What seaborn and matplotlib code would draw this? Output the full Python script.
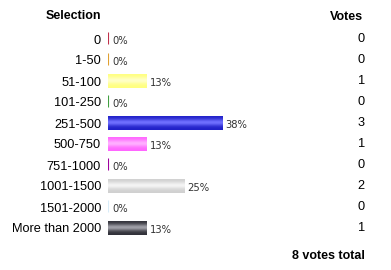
import matplotlib
matplotlib.use("Agg")
import matplotlib.pyplot as plt
import matplotlib.transforms as mtransforms
import seaborn as sns
import numpy as np
import pandas as pd
from matplotlib.colors import to_rgb

categories = ["0", "1-50", "51-100", "101-250", "251-500", "500-750",
              "751-1000", "1001-1500", "1501-2000", "More than 2000"]
votes = [0, 0, 1, 0, 3, 1, 0, 2, 0, 1]
percent_labels = ["0%", "0%", "13%", "0%", "38%", "13%", "0%", "25%", "0%", "13%"]
bar_colors = ["#c0304a", "#e0a030", "#ffff80", "#40a040", "#2020c8",
              "#ff66ff", "#a000a0", "#d0d0d0", "#d8ecf8", "#303038"]
highlight_colors = ["#c0304a", "#e0a030", "#ffffc8", "#40a040", "#7070ff",
                    "#ffb0ff", "#a000a0", "#f4f4f4", "#d8ecf8", "#a0a0a8"]
total_label = "8 votes total"

df = pd.DataFrame({"Selection": categories, "Votes": votes})

sns.set_theme(style="white")
plt.rcParams["font.family"] = ["Liberation Sans", "DejaVu Sans"]

W, H = 391, 270
fig = plt.figure(figsize=(W / 100, H / 100), dpi=100)
px_per_vote = 38
ax_left, ax_w = 108, 220
ax_top, row_h = 28.5, 21
ax_h = row_h * len(categories)
ax = fig.add_axes([ax_left / W, (H - ax_top - ax_h) / H, ax_w / W, ax_h / H])

sns.barplot(data=df, y="Selection", x="Votes", hue="Selection",
            palette=bar_colors, orient="h", width=0.62, legend=False,
            ax=ax, saturation=1)

ax.set_xlim(0, ax_w / px_per_vote)
ax.set_ylim(len(categories) - 0.5, -0.5)

# gradient shading + thin lines for zero bars
for i, patch in enumerate(ax.patches):
    x0, y0 = patch.get_x(), patch.get_y()
    w, h = patch.get_width(), patch.get_height()
    if w == 0:
        patch.set_edgecolor(bar_colors[i])
        patch.set_linewidth(0.8)
        patch.set_height(h * 0.92)
        continue
    base = np.array(to_rgb(bar_colors[i]))
    hi = np.array(to_rgb(highlight_colors[i]))
    t = np.linspace(0, 1, 32)
    prof = np.exp(-((t - 0.45) / 0.25) ** 2)
    grad = base[None, :] * (1 - prof[:, None]) + hi[None, :] * prof[:, None]
    im = ax.imshow(grad[:, None, :], extent=(x0, x0 + w, y0 + h, y0),
                   aspect="auto", zorder=3, interpolation="bilinear")
    im.set_clip_path(patch)

ax.set_xlim(0, ax_w / px_per_vote)
ax.set_ylim(len(categories) - 0.5, -0.5)

for i, (v, lab) in enumerate(zip(votes, percent_labels)):
    ax.annotate(lab, xy=(v, i), xytext=(2.5 if v else 3.5, -1.2),
                textcoords="offset points", va="center", ha="left",
                fontsize=7.2, color="#333333", family=["DejaVu Sans"])

ax.set_xlabel("")
ax.set_ylabel("")
ax.set_xticks([])
ax.tick_params(axis="y", length=0, pad=5, labelsize=9.2, labelcolor="#000000")
for s in ax.spines.values():
    s.set_visible(False)
ax.patch.set_alpha(0)

# headers and vote column
fig.text(101 / W, 1 - 16 / H, "Selection", ha="right", va="center",
         fontsize=9, fontweight="bold", color="#000000")
fig.text(363 / W, 1 - 16.5 / H, "Votes", ha="right", va="center",
         fontsize=9, fontweight="bold", color="#000000")
col_trans = mtransforms.blended_transform_factory(fig.transFigure, ax.transData)
for i, v in enumerate(votes):
    ax.text(365 / W, i, str(v), transform=col_trans, ha="right", va="center",
            fontsize=9.2, color="#000000")
fig.text(365 / W, 1 - 256 / H, total_label, ha="right", va="center",
         fontsize=9, fontweight="bold", color="#000000")

fig.savefig("out.png", dpi=100)
